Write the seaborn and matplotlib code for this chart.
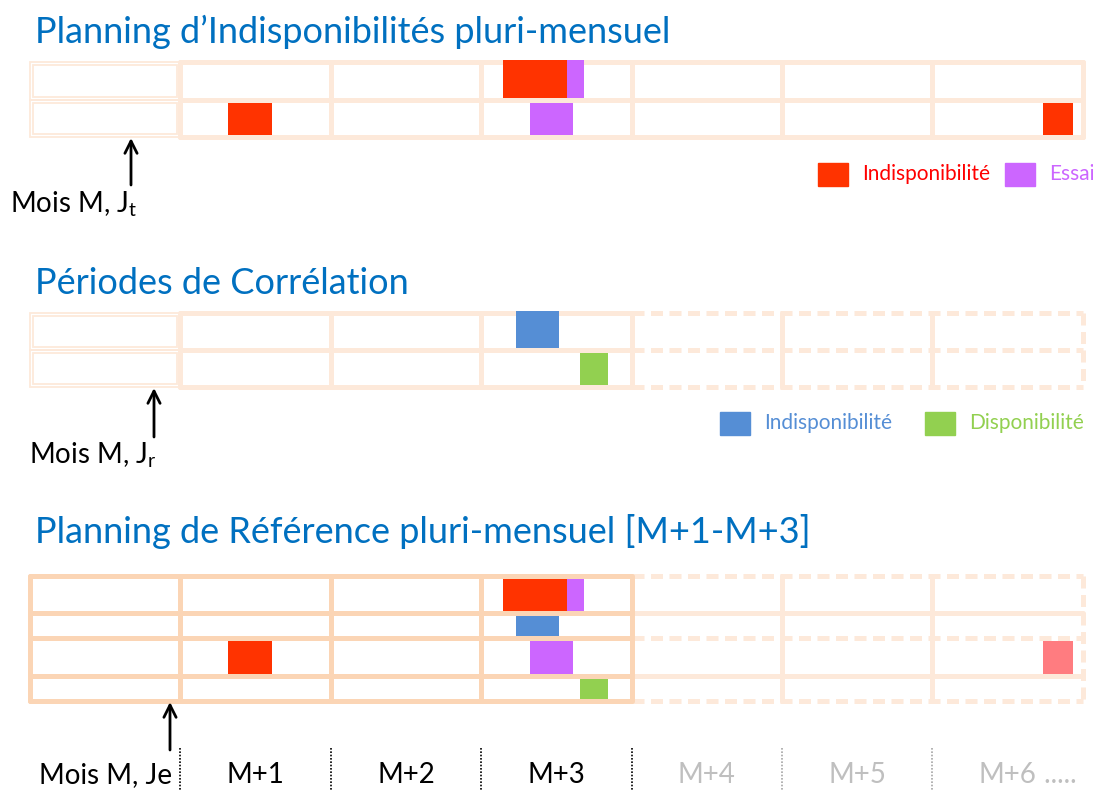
import numpy as np
import pandas as pd
import matplotlib
matplotlib.use("Agg")
import matplotlib.pyplot as plt
from matplotlib.patches import Rectangle
import seaborn as sns

sns.set_theme(style="white")
plt.rcParams['font.family'] = ['Lato', 'DejaVu Sans']

# ---------------- data (month units, M = 0) ----------------
month_labels = ["Mois M, Je", "M+1", "M+2", "M+3", "M+4", "M+5", "M+6"]
n_months = 7
ref_end = 4          # reference planning covers M .. M+3

plan_top_indispo = [(3.145, 3.570)]
plan_top_essai = [(3.570, 3.683)]
plan_bot_indispo = [(1.316, 1.609), (6.735, 6.935)]
plan_bot_essai = [(3.324, 3.610)]
corr_indispo = [(3.230, 3.516)]
corr_dispo = [(3.657, 3.843)]

C_RED = "#FF3300"
C_PURPLE = "#CC66FF"
C_BLUE = "#558ED5"
C_GREEN = "#92D050"
C_PINK = "#FF7C80"
C_GRID = "#FDE9DA"
C_GRID3 = "#FBD5B5"
C_TITLE = "#0070C0"
C_GRAY = "#BFBFBF"

# ---------------- layout ----------------
W, H = 1093, 791
X0, MW = 30.0, 150.4


def px(x):
    return (x - X0) / MW


fig = plt.figure(figsize=(W / 100, H / 100), dpi=100)
ax = fig.add_axes([0, 0, 1, 1])
ax.set_xlim(px(0), px(W))
ax.set_ylim(H, 0)
ax.axis("off")

LW = 3.6
DASH = (0, (2.4, 1.3))

g1 = [62, 100, 137]
g2 = [313, 350, 387]
g3 = [576, 613, 638, 676, 701]


def hline(y, x0, x1, color=C_GRID, ls="-", lw=LW, z=2):
    ax.plot([x0, x1], [y, y], color=color, lw=lw, ls=ls, zorder=z,
            solid_capstyle="round", dash_capstyle="butt")


def vline(x, y0, y1, color=C_GRID, ls="-", lw=LW, z=2):
    ax.plot([x, x], [y0, y1], color=color, lw=lw, ls=ls, zorder=z,
            solid_capstyle="round", dash_capstyle="butt")


def double_first_col(lines):
    for a, b in zip(lines[:-1], lines[1:]):
        ax.add_patch(Rectangle((0, a), 1, b - a, fill=False, ec=C_GRID, lw=1.3, zorder=2))
        ax.add_patch(Rectangle((px(X0 + 3), a + 3), px(X0 + MW - 3) - px(X0 + 3), b - a - 6,
                               fill=False, ec=C_GRID, lw=1.3, zorder=2))


# grid 1 : all solid, double first column
double_first_col(g1)
for y in g1:
    hline(y, 1, n_months)
for m in range(1, n_months + 1):
    vline(m, g1[0], g1[-1])

# grid 2 : solid up to M+3, dashed afterwards
double_first_col(g2)
for y in g2:
    hline(y, 1, ref_end)
    hline(y, ref_end, n_months, ls=DASH)
for m in range(1, ref_end + 1):
    vline(m, g2[0], g2[-1])
for m in range(ref_end + 1, n_months):
    vline(m, g2[0], g2[-1])
vline(n_months, g2[0], g2[-1], ls=DASH)

# grid 3 : strong frame on M..M+3, light afterwards
for i, y in enumerate(g3):
    hline(y, 0, ref_end, color=C_GRID3)
    hline(y, ref_end, n_months, ls=("-" if i in (1, 3) else DASH))
for m in range(0, ref_end + 1):
    vline(m, g3[0], g3[-1], color=C_GRID3, z=2.5)
for m in range(ref_end + 1, n_months):
    vline(m, g3[0], g3[-1])
vline(n_months, g3[0], g3[-1], ls=DASH)

# ---------------- bars ----------------
rows = []
def add(events, grid, row, color):
    for s, e in events:
        rows.append(dict(grid=grid, row=row, start=s, end=e, color=color))

add(plan_top_indispo, 1, 0, C_RED)
add(plan_top_essai, 1, 0, C_PURPLE)
add(plan_bot_indispo, 1, 1, C_RED)
add(plan_bot_essai, 1, 1, C_PURPLE)
add(corr_indispo, 2, 0, C_BLUE)
add(corr_dispo, 2, 1, C_GREEN)
add(plan_top_indispo, 3, 0, C_RED)
add(plan_top_essai, 3, 0, C_PURPLE)
add(corr_indispo, 3, 1, C_BLUE)
add([ev for ev in plan_bot_indispo if ev[1] <= ref_end], 3, 2, C_RED)
add([ev for ev in plan_bot_indispo if ev[1] > ref_end], 3, 2, C_PINK)
add(plan_bot_essai, 3, 2, C_PURPLE)
add(corr_dispo, 3, 3, C_GREEN)
events = pd.DataFrame(rows)

grid_lines = {1: g1, 2: g2, 3: g3}
for _, r in events.iterrows():
    lines = grid_lines[r.grid]
    top = lines[r.row] + (-2 if (r.row == 0 and r.grid != 3) else 2.5)
    bot = lines[r.row + 1] - 2.5
    ax.bar(r.start, bot - top, width=r.end - r.start, bottom=top, align="edge",
           color=r.color, edgecolor="none", zorder=4)

# ---------------- titles ----------------
TFS = 26
ax.text(px(35), 43, "Planning d\u2019Indisponibilités pluri-mensuel", color=C_TITLE,
        fontsize=TFS, va="baseline", ha="left")
ax.text(px(35), 294, "Périodes de Corrélation", color=C_TITLE,
        fontsize=TFS, va="baseline", ha="left")
ax.text(px(35), 543, "Planning de Référence pluri-mensuel [M+1-M+3]", color=C_TITLE,
        fontsize=TFS, va="baseline", ha="left")

# ---------------- arrows + labels ----------------
LFS = 20
arrow = dict(arrowstyle="->", color="black", lw=2, mutation_scale=22, shrinkA=0, shrinkB=0)
ax.annotate("", xy=(px(131), 138), xytext=(px(131), 185), arrowprops=arrow, zorder=6)
ax.annotate("", xy=(px(154), 388), xytext=(px(154), 437), arrowprops=arrow, zorder=6)
ax.annotate("", xy=(px(170), 702), xytext=(px(170), 750), arrowprops=arrow, zorder=6)
ax.text(px(10), 212, r"Mois M, J$_\mathregular{t}$", fontsize=LFS, va="baseline", ha="left", color="black")
ax.text(px(29), 463, r"Mois M, J$_\mathregular{r}$", fontsize=LFS, va="baseline", ha="left", color="black")

# ---------------- legends ----------------
def legend_item(x_sq, y, color, label, tcolor):
    ax.add_patch(Rectangle((px(x_sq), y - 11.5), px(x_sq + 30) - px(x_sq), 23,
                           color=color, zorder=5))
    ax.text(px(x_sq + 44), y, label, color=tcolor, fontsize=15, va="center", ha="left")

legend_item(818, 174, C_RED, "Indisponibilité", "#FF0000")
legend_item(1005, 174, C_PURPLE, "Essai", C_PURPLE)
legend_item(720, 423, C_BLUE, "Indisponibilité", C_BLUE)
legend_item(925, 423, C_GREEN, "Disponibilité", C_GREEN)

# ---------------- month axis ----------------
for m, lab in enumerate(month_labels):
    col = "black" if m < ref_end else C_GRAY
    t = ax.text(m + 0.5, 783, lab, fontsize=LFS, va="baseline", ha="center", color=col)
    if m == n_months - 1:
        ax.annotate(" .....", xy=(1, 0), xycoords=t, va="bottom", ha="left",
                    fontsize=LFS, color=col)
for m in range(1, n_months):
    col = "black" if m <= ref_end else "#A6A6A6"
    ax.plot([m, m], [748, 791], color=col, lw=1.2, ls=(0, (1, 1)), zorder=3)

fig.savefig("out.png", dpi=100)
